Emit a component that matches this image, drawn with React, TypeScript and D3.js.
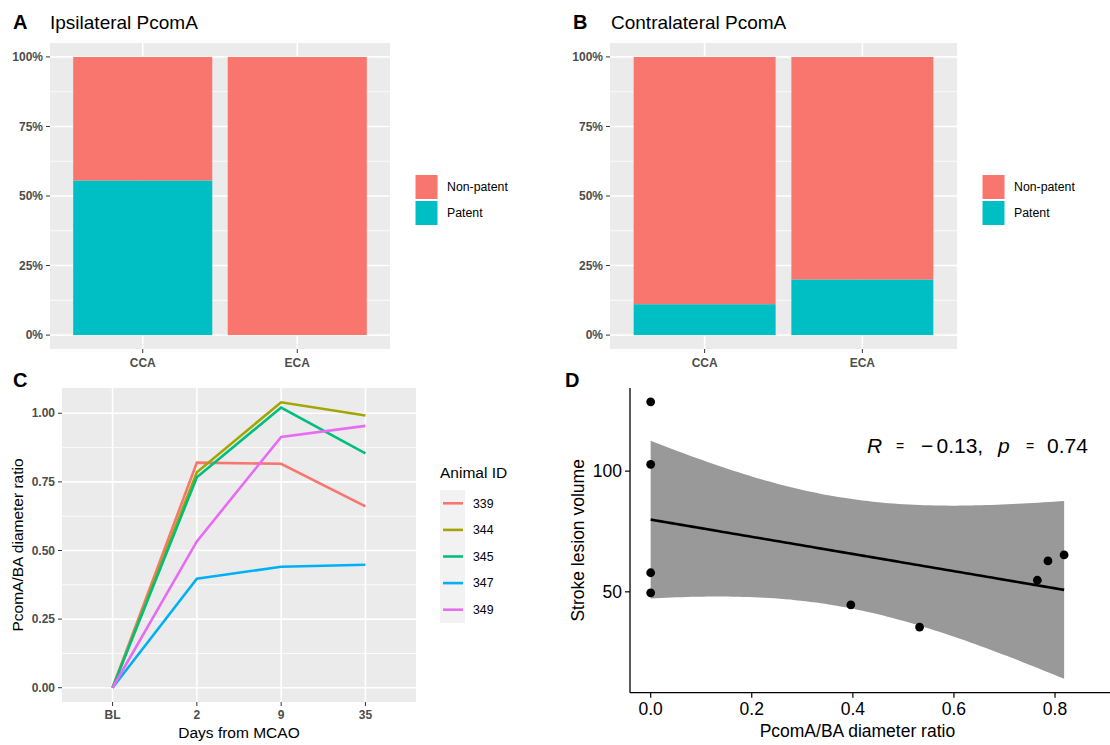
import React from "react";
import * as d3 from "d3";

const FONT = "'Liberation Sans', Arial, Helvetica, sans-serif";

// ---------- Data ----------
const barCategories = ["CCA", "ECA"];
const fillLevels = ["Non-patent", "Patent"];
const ipsiPatent = [0.556, 0.0];
const ipsiNonPatent = [0.444, 1.0];
const contraPatent = [0.111, 0.2];
const contraNonPatent = [0.889, 0.8];

const days = ["BL", "2", "9", "35"];
const animalIds = ["339", "344", "345", "347", "349"];
const ratio339 = [0, 0.82, 0.816, 0.661];
const ratio344 = [0, 0.785, 1.04, 0.992];
const ratio345 = [0, 0.767, 1.021, 0.854];
const ratio347 = [0, 0.397, 0.441, 0.448];
const ratio349 = [0, 0.533, 0.914, 0.954];
const animalColors = ["#F8766D", "#A3A500", "#00BF7D", "#00B0F6", "#E76BF3"];

const scatterRatio = [0, 0, 0, 0, 0.396, 0.532, 0.765, 0.786, 0.818];
const scatterVolume = [128.7, 102.8, 57.9, 49.6, 44.6, 35.4, 54.8, 62.8, 65.3];
const corrLabelR = "\u22120.13";
const corrLabelP = "0.74";

const pctTicks = [0, 0.25, 0.5, 0.75, 1];
const pctMinor = [0.125, 0.375, 0.625, 0.875];
const ratioTicks = [0, 0.25, 0.5, 0.75, 1];
const ratioMinor = [0.125, 0.375, 0.625, 0.875];
const scatterXTicks = [0, 0.2, 0.4, 0.6, 0.8];
const scatterYTicks = [50, 100];

const FILL_COLORS = ["#F8766D", "#00BFC4"];
const PANEL_BG = "#EBEBEB";
const TICK_COL = "#4D4D4D";

type BarProps = {
  left: number; right: number; top: number; bottom: number;
  patent: number[]; nonPatent: number[];
  letter: string; title: string; letterX: number; titleX: number;
  keyX: number;
};

function BarPanel(p: BarProps) {
  const x = d3.scalePoint<string>().domain(barCategories).range([p.left, p.right]).padding(0.6);
  const step = x.step();
  const bw = step * 0.9;
  const y = d3.scaleLinear().domain([-0.05, 1.05]).range([p.bottom, p.top]);
  const fmt = d3.format(".0%");
  const keyTop = 174;
  const keyH = 26;
  return (
    <g>
      <text x={p.letterX} y={29} fontSize={20} fontWeight="bold" fontFamily={FONT}>{p.letter}</text>
      <text x={p.titleX} y={29} fontSize={19} fontFamily={FONT}>{p.title}</text>
      <rect x={p.left} y={p.top} width={p.right - p.left} height={p.bottom - p.top} fill={PANEL_BG} />
      {pctMinor.map((t) => (
        <line key={"m" + t} x1={p.left} x2={p.right} y1={y(t)} y2={y(t)} stroke="#fff" strokeWidth={0.8} />
      ))}
      {pctTicks.map((t) => (
        <line key={"M" + t} x1={p.left} x2={p.right} y1={y(t)} y2={y(t)} stroke="#fff" strokeWidth={1.6} />
      ))}
      {barCategories.map((c) => (
        <line key={"v" + c} x1={x(c)} x2={x(c)} y1={p.top} y2={p.bottom} stroke="#fff" strokeWidth={1.6} />
      ))}
      {barCategories.map((c, i) => {
        const cx = x(c) as number;
        return (
          <g key={c}>
            <rect x={cx - bw / 2} y={y(p.patent[i])} width={bw} height={y(0) - y(p.patent[i])} fill={FILL_COLORS[1]} />
            <rect x={cx - bw / 2} y={y(p.patent[i] + p.nonPatent[i])} width={bw}
              height={y(p.patent[i]) - y(p.patent[i] + p.nonPatent[i])} fill={FILL_COLORS[0]} />
          </g>
        );
      })}
      {pctTicks.map((t) => (
        <g key={"yt" + t}>
          <line x1={p.left - 4} x2={p.left} y1={y(t)} y2={y(t)} stroke="#333" strokeWidth={1} />
          <text x={p.left - 7} y={y(t)} dy="0.35em" textAnchor="end" fontSize={12} fontWeight="bold"
            fill={TICK_COL} fontFamily={FONT}>{fmt(t)}</text>
        </g>
      ))}
      {barCategories.map((c) => (
        <g key={"xt" + c}>
          <line x1={x(c)} x2={x(c)} y1={p.bottom} y2={p.bottom + 4} stroke="#333" strokeWidth={1} />
          <text x={x(c)} y={366.5} textAnchor="middle" fontSize={12} fontWeight="bold"
            fill={TICK_COL} fontFamily={FONT}>{c}</text>
        </g>
      ))}
      {fillLevels.map((lv, i) => (
        <g key={lv}>
          <rect x={p.keyX} y={keyTop + i * keyH + 0.5} width={23} height={keyH - 1}
            fill={FILL_COLORS[i]} stroke="#fff" strokeWidth={1} />
          <text x={p.keyX + 32} y={keyTop + i * keyH + keyH / 2} dy="0.35em" fontSize={12.3}
            fontFamily={FONT}>{lv}</text>
        </g>
      ))}
    </g>
  );
}

function LinePanel() {
  const left = 62, right = 416, top = 388, bottom = 702;
  const series = [ratio339, ratio344, ratio345, ratio347, ratio349];
  const x = d3.scalePoint<string>().domain(days).range([left, right]).padding(0.6);
  const maxV = d3.max(series.flat()) as number;
  const pad = maxV * 0.05;
  const y = d3.scaleLinear().domain([-pad, maxV + pad]).range([bottom, top]);
  const line = d3.line<number>().x((_, i) => x(days[i]) as number).y((d) => y(d));
  const fmt = d3.format(".2f");
  const legTop = 490, keyH = 26.6;
  return (
    <g>
      <text x={13} y={387} fontSize={20} fontWeight="bold" fontFamily={FONT}>C</text>
      <rect x={left} y={top} width={right - left} height={bottom - top} fill={PANEL_BG} />
      {ratioMinor.map((t) => (
        <line key={"m" + t} x1={left} x2={right} y1={y(t)} y2={y(t)} stroke="#fff" strokeWidth={0.8} />
      ))}
      {ratioTicks.map((t) => (
        <line key={"M" + t} x1={left} x2={right} y1={y(t)} y2={y(t)} stroke="#fff" strokeWidth={1.6} />
      ))}
      {days.map((d) => (
        <line key={"v" + d} x1={x(d)} x2={x(d)} y1={top} y2={bottom} stroke="#fff" strokeWidth={1.6} />
      ))}
      {series.map((s, i) => (
        <path key={animalIds[i]} d={line(s) as string} fill="none" stroke={animalColors[i]} strokeWidth={2.6} />
      ))}
      {ratioTicks.map((t) => (
        <g key={"yt" + t}>
          <line x1={left - 4} x2={left} y1={y(t)} y2={y(t)} stroke="#333" strokeWidth={1} />
          <text x={left - 7} y={y(t)} dy="0.35em" textAnchor="end" fontSize={12} fontWeight="bold"
            fill={TICK_COL} fontFamily={FONT}>{fmt(t)}</text>
        </g>
      ))}
      {days.map((d) => (
        <g key={"xt" + d}>
          <line x1={x(d)} x2={x(d)} y1={bottom} y2={bottom + 4} stroke="#333" strokeWidth={1} />
          <text x={x(d)} y={719} textAnchor="middle" fontSize={12} fontWeight="bold"
            fill={TICK_COL} fontFamily={FONT}>{d}</text>
        </g>
      ))}
      <text x={(left + right) / 2} y={738} textAnchor="middle" fontSize={15.5} fontFamily={FONT}>Days from MCAO</text>
      <text transform={`translate(23,${(top + bottom) / 2}) rotate(-90)`} textAnchor="middle" fontSize={15.5}
        fontFamily={FONT}>PcomA/BA diameter ratio</text>
      <text x={440} y={478} fontSize={15.5} fontFamily={FONT}>Animal ID</text>
      <rect x={440} y={legTop} width={25} height={keyH * animalIds.length} fill="#F2F2F2" />
      {animalIds.map((id, i) => (
        <g key={"lg" + id}>
          <line x1={443} x2={463} y1={legTop + keyH * i + keyH / 2} y2={legTop + keyH * i + keyH / 2}
            stroke={animalColors[i]} strokeWidth={2.6} />
          <text x={473} y={legTop + keyH * i + keyH / 2} dy="0.35em" fontSize={12.3} fontFamily={FONT}>{id}</text>
        </g>
      ))}
    </g>
  );
}

function ScatterPanel() {
  const left = 630, bottom = 692.7, top = 388;
  const n = scatterRatio.length;
  const mx = d3.mean(scatterRatio) as number;
  const my = d3.mean(scatterVolume) as number;
  let sxy = 0, sxx = 0;
  for (let i = 0; i < n; i++) {
    sxy += (scatterRatio[i] - mx) * (scatterVolume[i] - my);
    sxx += (scatterRatio[i] - mx) ** 2;
  }
  const slope = sxy / sxx;
  const intercept = my - slope * mx;
  let sse = 0;
  for (let i = 0; i < n; i++) sse += (scatterVolume[i] - (intercept + slope * scatterRatio[i])) ** 2;
  const s = Math.sqrt(sse / (n - 2));
  const tCrit = 2.365; // t(0.975, df = 7)
  const [xmin, xmax] = d3.extent(scatterRatio) as [number, number];
  const grid = d3.range(0, 81).map((k) => xmin + (xmax - xmin) * k / 80);
  const band = grid.map((gx) => {
    const fit = intercept + slope * gx;
    const se = s * Math.sqrt(1 / n + (gx - mx) ** 2 / sxx);
    return { x: gx, fit, lo: fit - tCrit * se, hi: fit + tCrit * se };
  });
  const yLo = Math.min(d3.min(band, (b) => b.lo) as number, d3.min(scatterVolume) as number);
  const yHi = Math.max(d3.max(band, (b) => b.hi) as number, d3.max(scatterVolume) as number);
  const yPad = (yHi - yLo) * 0.05;
  const xPad = (xmax - xmin) * 0.05;
  const x = d3.scaleLinear().domain([xmin - xPad, xmax + xPad]).range([left, 1084.8]);
  const y = d3.scaleLinear().domain([yLo - yPad, yHi + yPad]).range([bottom, top]);
  const area = d3.area<typeof band[number]>().x((b) => x(b.x)).y0((b) => y(b.lo)).y1((b) => y(b.hi));
  const fitLine = d3.line<typeof band[number]>().x((b) => x(b.x)).y((b) => y(b.fit));
  const fmt = d3.format(".1f");
  return (
    <g>
      <text x={565} y={387} fontSize={20} fontWeight="bold" fontFamily={FONT}>D</text>
      <path d={area(band) as string} fill="#999999" />
      <path d={fitLine(band) as string} fill="none" stroke="#000" strokeWidth={2.6} />
      {scatterRatio.map((v, i) => (
        <circle key={i} cx={x(v)} cy={y(scatterVolume[i])} r={4.4} fill="#000" />
      ))}
      <line x1={left} x2={left} y1={top} y2={bottom} stroke="#000" strokeWidth={1.3} />
      <line x1={left} x2={1110} y1={bottom} y2={bottom} stroke="#000" strokeWidth={1.3} />
      {scatterYTicks.map((t) => (
        <g key={"yt" + t}>
          <line x1={left - 5} x2={left} y1={y(t)} y2={y(t)} stroke="#000" strokeWidth={1.2} />
          <text x={left - 8} y={y(t)} dy="0.36em" textAnchor="end" fontSize={17.5} fontFamily={FONT}>{t}</text>
        </g>
      ))}
      {scatterXTicks.map((t) => (
        <g key={"xt" + t}>
          <line x1={x(t)} x2={x(t)} y1={bottom} y2={bottom + 5} stroke="#000" strokeWidth={1.2} />
          <text x={x(t)} y={715} textAnchor="middle" fontSize={17.5} fontFamily={FONT}>{fmt(t)}</text>
        </g>
      ))}
      <text x={(left + 1084.8) / 2} y={737} textAnchor="middle" fontSize={17.5} fontFamily={FONT}>PcomA/BA diameter ratio</text>
      <text transform={`translate(584,${(top + bottom) / 2}) rotate(-90)`} textAnchor="middle" fontSize={17.5}
        fontFamily={FONT}>Stroke lesion volume</text>
      <g fontSize={21} fontFamily={FONT}>
        <text x={867} y={453} fontStyle="italic">R</text>
        <text x={896} y={451} fontSize={14}>=</text>
        <text x={921} y={453}>{corrLabelR.charAt(0)}</text>
        <text x={936.5} y={453}>{corrLabelR.slice(1) + ","}</text>
        <text x={998} y={453} fontStyle="italic">p</text>
        <text x={1026} y={451} fontSize={14}>=</text>
        <text x={1047} y={453}>{corrLabelP}</text>
      </g>
    </g>
  );
}

export default function App() {
  return (
    <div style={{ position: "fixed", left: 0, top: 0 }}>
      <svg width={1110} height={745} style={{ display: "block", background: "#fff" }}>
        <rect width={1110} height={745} fill="#fff" />
        <BarPanel left={50} right={390} top={43} bottom={349} patent={ipsiPatent} nonPatent={ipsiNonPatent}
          letter="A" title="Ipsilateral PcomA" letterX={13} titleX={50} keyX={415} />
        <BarPanel left={610} right={957} top={43} bottom={349} patent={contraPatent} nonPatent={contraNonPatent}
          letter="B" title="Contralateral PcomA" letterX={573} titleX={611} keyX={982} />
        <LinePanel />
        <ScatterPanel />
      </svg>
    </div>
  );
}
